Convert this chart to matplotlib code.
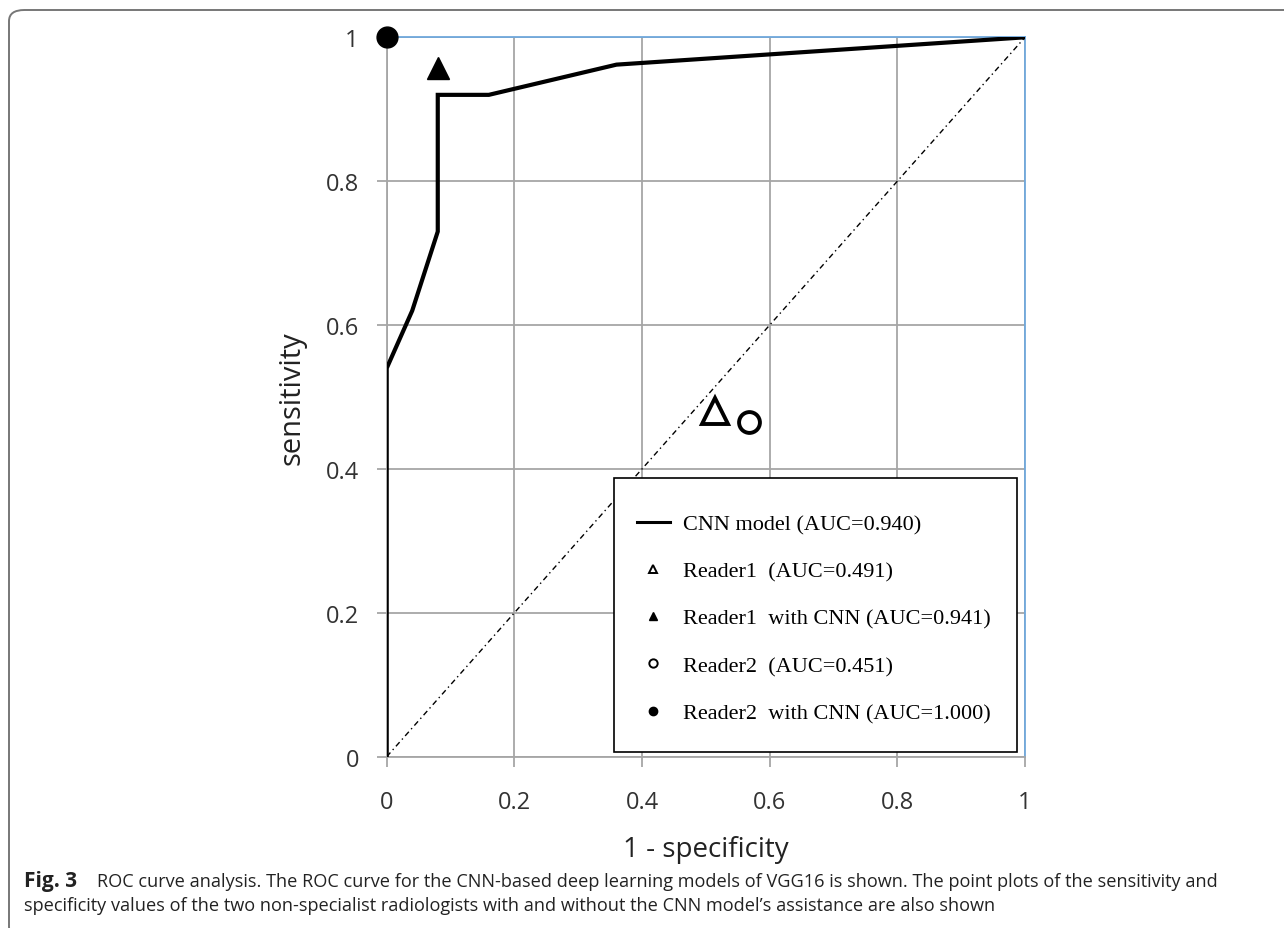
import matplotlib
matplotlib.use("Agg")
import matplotlib.pyplot as plt
from matplotlib.lines import Line2D
from matplotlib.patches import FancyBboxPatch, Rectangle

# ---- data ----
cnn_fpr = [0.0, 0.0, 0.04, 0.08, 0.08, 0.16, 0.36, 1.0]
cnn_tpr = [0.0, 0.54, 0.62, 0.73, 0.92, 0.92, 0.962, 1.0]
reader1 = (0.515, 0.481)
reader1_cnn = (0.08, 0.958)
reader2 = (0.567, 0.465)
reader2_cnn = (0.0, 1.0)
ticks = [0, 0.2, 0.4, 0.6, 0.8, 1]
tick_labels = ["0", "0.2", "0.4", "0.6", "0.8", "1"]
legend_labels = ["CNN model (AUC=0.940)", "Reader1  (AUC=0.491)",
                 "Reader1  with CNN (AUC=0.941)", "Reader2  (AUC=0.451)",
                 "Reader2  with CNN (AUC=1.000)"]

W, H = 1284, 929
fig = plt.figure(figsize=(W / 100, H / 100), dpi=100)
ax = fig.add_axes([386.7 / W, 1 - 757.7 / H, (1025 - 386.7) / W, (757.7 - 38.3) / H])

grid_c = "#a6a6a6"
blue = "#6fa8dc"

ax.set_xlim(0, 1)
ax.set_ylim(0, 1)
ax.set_xticks(ticks)
ax.set_yticks(ticks)
ax.set_xticklabels(tick_labels)
ax.set_yticklabels(tick_labels)
ax.grid(True, color=grid_c, linewidth=1.3, zorder=0)
ax.set_axisbelow(True)
ax.tick_params(length=7, width=1.3, color=grid_c, labelsize=17,
               labelcolor="#333333")
ax.tick_params(axis="y", pad=13)
ax.tick_params(axis="x", pad=17)
for lab in ax.get_xticklabels() + ax.get_yticklabels():
    lab.set_fontfamily("Open Sans")
for s in ["left", "bottom"]:
    ax.spines[s].set_color(grid_c)
    ax.spines[s].set_linewidth(1.3)
for s in ["top", "right"]:
    ax.spines[s].set_color(blue)
    ax.spines[s].set_linewidth(1.3)

# diagonal
ax.plot([0, 1], [0, 1], color="black", linewidth=1.0,
        dashes=(4, 2.5, 1, 2.5), zorder=2)
# CNN ROC curve
ax.plot(cnn_fpr, cnn_tpr, color="black", linewidth=3.0, zorder=3,
        solid_joinstyle="miter")
# reader points
ax.plot(*reader1, marker="^", markersize=19, markerfacecolor="white",
        markeredgecolor="black", markeredgewidth=2.8, linestyle="none", zorder=4)
ax.plot(*reader2, marker="o", markersize=15, markerfacecolor="white",
        markeredgecolor="black", markeredgewidth=2.8, linestyle="none", zorder=4)
ax.plot(*reader1_cnn, marker="^", markersize=16, color="black",
        linestyle="none", zorder=4, clip_on=False)
ax.plot(*reader2_cnn, marker="o", markersize=15, color="black",
        linestyle="none", zorder=4, clip_on=False)

ax.set_xlabel("1 - specificity", fontsize=20, family="Open Sans", labelpad=15,
              color="#222222")
ax.set_ylabel("sensitivity", fontsize=21, family="Open Sans", labelpad=14,
              color="#222222")

# legend box (frame drawn separately)
ax.add_patch(Rectangle((0.3561, 0.0065), 0.9875 - 0.3561, 0.3874 - 0.0065,
                       transform=ax.transAxes, facecolor="white",
                       edgecolor="black", linewidth=1.2, zorder=5))
handles = [
    Line2D([], [], color="black", linewidth=2.2),
    Line2D([], [], marker="^", markersize=6, markerfacecolor="white",
           markeredgecolor="black", markeredgewidth=1.4, linestyle="none"),
    Line2D([], [], marker="^", markersize=6, color="black", linestyle="none"),
    Line2D([], [], marker="o", markersize=6, markerfacecolor="white",
           markeredgecolor="black", markeredgewidth=1.4, linestyle="none"),
    Line2D([], [], marker="o", markersize=6, color="black", linestyle="none"),
]
leg = ax.legend(handles, legend_labels, loc="upper left",
                bbox_to_anchor=(0.392, 0.3375), borderaxespad=0,
                prop={"family": "Liberation Serif", "size": 16},
                frameon=False, labelspacing=1.2, borderpad=0,
                handlelength=1.49, handletextpad=0.6)
leg.set_zorder(6)

# outer rounded border
border = FancyBboxPatch((9 / W, -10 / H), (W + 40) / W, (H - 11 + 10) / H,
                        boxstyle="round,pad=0,rounding_size=0.012",
                        transform=fig.transFigure, fill=False,
                        edgecolor="#777777", linewidth=1.4, clip_on=False)
fig.patches.append(border)

# caption
cap_font = "Open Sans"
fig.text(24 / W, 1 - 882 / H, "Fig. 3", fontsize=15, fontweight="bold",
         family=cap_font, va="center", color="#222222")
fig.text(97 / W, 1 - 882 / H,
         "ROC curve analysis. The ROC curve for the CNN-based deep learning models of VGG16 is shown. "
         "The point plots of the sensitivity and",
         fontsize=13.1, family=cap_font, va="center", color="#222222")
fig.text(24 / W, 1 - 906 / H,
         "specificity values of the two non-specialist radiologists with and without the CNN model\u2019s "
         "assistance are also shown",
         fontsize=13.1, family=cap_font, va="center", color="#222222")

fig.savefig("out.png", dpi=100)
